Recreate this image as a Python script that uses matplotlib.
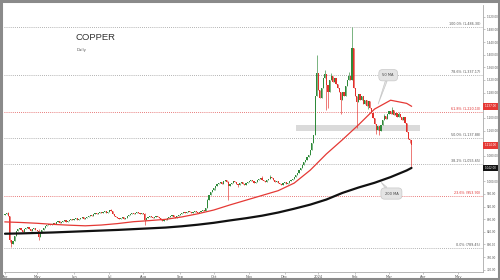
import matplotlib
matplotlib.use('Agg')
import matplotlib.pyplot as plt
import matplotlib.transforms as mtransforms
from matplotlib.patches import Rectangle
import pandas as pd

# ---------------- data ----------------
start_date = '2023-04-03'
end_axis_date = '2024-05-31'
first_open = 893

closes = [
    896, 899, 890, 815, 802, 811, 827,
    843, 849, 852, 846, 840, 849, 852, 856, 849, 843,
    849, 852, 846, 843, 824,
    840, 846, 852, 859, 862, 865, 862,
    865, 868, 865, 871, 874, 868, 871, 874, 878, 871, 874, 878, 881,
    878, 881, 884, 878, 881, 884, 887, 881, 884,
    887, 890, 893, 890, 897, 900, 897, 900, 903, 900,
    903, 906, 900, 903, 909, 906,
    897, 890, 887, 884, 881, 884, 887, 881, 884,
    890, 893, 897, 900, 897, 900, 903, 900, 897, 900, 897,
    878,
    884, 887, 890, 887, 884, 887, 890, 887,
    884, 878, 874, 881, 878, 884, 887, 890, 893,
    887, 884, 890, 893, 897, 900, 903, 900,
    903, 906, 903, 900, 903, 906, 903, 900, 903, 906, 909, 906,
    916, 941, 957, 966, 972, 979,
    985, 991, 994, 997, 991, 1001, 1004, 997,
    985,
    991, 994, 1001, 997, 991, 988, 994, 997, 991, 988, 994,
    997, 1001, 1004, 1001, 994, 997, 1004, 1007, 1010, 1004,
    1001, 997, 1004, 1007, 1013, 1010, 1004, 997, 1001, 994,
    991, 988, 994, 997, 991, 994, 1001, 1004, 1007, 1013, 1020, 1026, 1035,
    1042, 1051, 1061, 1067, 1076, 1083, 1098, 1120, 1145,
    1268, 1341, 1288, 1263, 1294, 1325, 1338, 1303, 1281, 1319,
    1332, 1313, 1325, 1306, 1294, 1281, 1256, 1281, 1269, 1300,
    1319, 1332, 1319, 1420, 1294, 1269, 1250, 1275, 1256, 1269,
    1243, 1256, 1237, 1253, 1231, 1215, 1199, 1180, 1161, 1174,
    1158, 1177, 1193, 1206, 1196, 1212, 1221, 1212, 1225, 1209,
    1215, 1202, 1212, 1202, 1193, 1202, 1183, 1155, 1133, 1130,
    1114,
]

high_wicks = {2: 903, 21: 848, 66: 913, 87: 898, 126: 944, 139: 1001, 160: 1016,
              165: 1019, 194: 1398, 199: 1350, 203: 1342, 214: 1345, 216: 1486.3,
              236: 1212, 241: 1234, 245: 1218}
low_wicks = {3: 808, 4: 793, 21: 815, 87: 862, 131: 972, 139: 941, 145: 982,
             200: 1225, 201: 1230, 209: 1212, 219: 1168, 226: 1228, 231: 1150,
             233: 1146, 252: 1120, 253: 1042}

ma_days = [0, 10, 20, 30, 40, 50, 60, 70, 80, 90, 100, 110, 120, 130, 140,
           150, 160, 170, 180, 190, 200, 210, 220, 230, 240, 250, 253]
ma50 = [871.4, 869.5, 867, 863.5, 861, 859, 861.5, 866, 872, 875.5, 879.5, 887,
        897, 909, 925, 940, 955, 970, 994, 1035, 1086, 1131, 1178, 1228, 1256,
        1246, 1237]
ma200 = [834, 835, 836.5, 838, 840, 842, 844, 846, 848.5, 851, 853.5, 857.5,
         862.5, 868.5, 876, 883, 891, 901, 913, 926, 942, 963, 980, 995, 1013,
         1034, 1042]

fib_pcts = ['0.0%', '23.6%', '38.2%', '50.0%', '61.8%', '78.6%', '100.0%']
fib_values = [789.45, 953.90, 1055.65, 1137.88, 1220.10, 1337.17, 1486.30]
fib_red = ['23.6%', '61.8%']

month_labels = ['Apr', 'May', 'Jun', 'Jul', 'Aug', 'Sep', 'Oct', 'Nov', 'Dec',
                '2024', 'Feb', 'Mar', 'Apr', 'May']
y_ticks = list(range(720, 1521, 40))

support_zone = (1158, 1177)
support_days = (181, 258)

title = 'COPPER'
subtitle = 'Daily'

ma50_label = '50 MA'
ma50_point = (232, 1240)
ma50_text_at = (238.5, 1335)
ma200_label = '200 MA'
ma200_point = (233.5, 1000)
ma200_text_at = (240.5, 961)

# ---------------- figure ----------------
W, H = 500, 280
fig = plt.figure(figsize=(W / 100, H / 100), dpi=100)
fig.patch.set_facecolor('white')
ax = fig.add_axes([4 / W, 8 / H, (483 - 4) / W, (275 - 8) / H])

all_days = pd.bdate_range(start_date, end_axis_date)
n = len(closes)
opens = [first_open] + closes[:-1]
highs = [max(o, c, high_wicks.get(i, 0)) for i, (o, c) in enumerate(zip(opens, closes))]
lows = [min(o, c, low_wicks.get(i, 1e9)) for i, (o, c) in enumerate(zip(opens, closes))]

GREEN = '#2f8a3a'
RED = '#e3302b'

xs = list(range(n))
cols = [GREEN if c >= o else RED for o, c in zip(opens, closes)]
ax.vlines(xs, lows, highs, colors=cols, linewidth=0.45, zorder=3)
bottoms = [min(o, c) for o, c in zip(opens, closes)]
heights = [max(abs(c - o), 1.8) for o, c in zip(opens, closes)]
ax.bar(xs, heights, bottom=bottoms, width=0.72, color=cols, linewidth=0, zorder=4)

# moving averages
ax.plot(ma_days, ma200, color='#111111', lw=1.6, zorder=5, solid_capstyle='round')
ax.plot(ma_days, ma50, color='#e53935', lw=0.9, zorder=5)

# support band
ax.add_patch(Rectangle((support_days[0], support_zone[0]),
                       support_days[1] - support_days[0],
                       support_zone[1] - support_zone[0],
                       facecolor='#d4d4d4', edgecolor='none', alpha=0.85, zorder=2))

# fibonacci levels
trans = mtransforms.blended_transform_factory(ax.transAxes, ax.transData)
for p, v in zip(fib_pcts, fib_values):
    c = '#e05050' if p in fib_red else '#9a9a9a'
    tc = '#e03030' if p in fib_red else '#555555'
    ax.axhline(v, color=c, lw=0.6, ls=(0, (1, 1.5)), zorder=1)
    ax.text(0.994, v + 3, f'{p} ({v:,.2f})', transform=trans, ha='right',
            va='bottom', fontsize=2.4, color=tc, zorder=6)

# axes limits / ticks
ax.set_xlim(-0.6, 297.5)
ax.set_ylim(713, 1557)

month_pos = []
prev = None
for i, d in enumerate(all_days):
    if d.month != prev:
        month_pos.append(i)
        prev = d.month
month_pos = [m for m in month_pos if m < 297.5][:len(month_labels)]
ax.set_xticks(month_pos)
ax.set_xticklabels(month_labels[:len(month_pos)], fontsize=2.6, color='#555555')

ax.yaxis.tick_right()
ax.set_yticks(y_ticks)
ax.set_yticklabels([f'{t:,.2f}' for t in y_ticks], fontsize=2.0, color='#555555')
ax.tick_params(axis='both', length=1.5, width=0.4, color='#999999', pad=1.0)

for s in ['top', 'left']:
    ax.spines[s].set_visible(False)
for s in ['bottom', 'right']:
    ax.spines[s].set_color('#aaaaaa')
    ax.spines[s].set_linewidth(0.6)

# price labels on right axis
trans_r = mtransforms.blended_transform_factory(ax.transAxes, ax.transData)
for val, col in [(ma50[-1], '#e53935'), (closes[-1], '#e53935'), (ma200[-1], '#111111')]:
    ax.text(1.003, val, f'{val:,.2f}', transform=trans_r, ha='left', va='center',
            fontsize=2.0, color='white', zorder=7, clip_on=False,
            bbox=dict(boxstyle='square,pad=0.5', fc=col, ec='none'))

# title
fig.text(76 / W, 1 - 38 / H, title, fontsize=6.8, color='#333333',
         family=['Liberation Sans Narrow', 'Liberation Sans', 'DejaVu Sans'],
         ha='left', va='center')
fig.text(77 / W, 1 - 50 / H, subtitle, fontsize=2.8, color='#555555',
         ha='left', va='center')

# callouts
for label, pt, tx in [(ma50_label, ma50_point, ma50_text_at),
                      (ma200_label, ma200_point, ma200_text_at)]:
    ax.annotate(label, xy=pt, xytext=tx, fontsize=2.6, color='#444444',
                ha='center', va='center', zorder=8,
                bbox=dict(boxstyle='round,pad=1.0', fc='#e4e4e4', ec='#c8c8c8', lw=0.5),
                arrowprops=dict(arrowstyle='wedge,tail_width=0.5', fc='#e4e4e4',
                                ec='#c8c8c8', lw=0.5, shrinkA=0, shrinkB=1))

# outer frame
fig.patches.append(Rectangle((0.002, 0.002), 0.996, 0.993, transform=fig.transFigure,
                             fill=False, ec='#8a8a8a', lw=2.2))

fig.savefig('out.png', dpi=100)
